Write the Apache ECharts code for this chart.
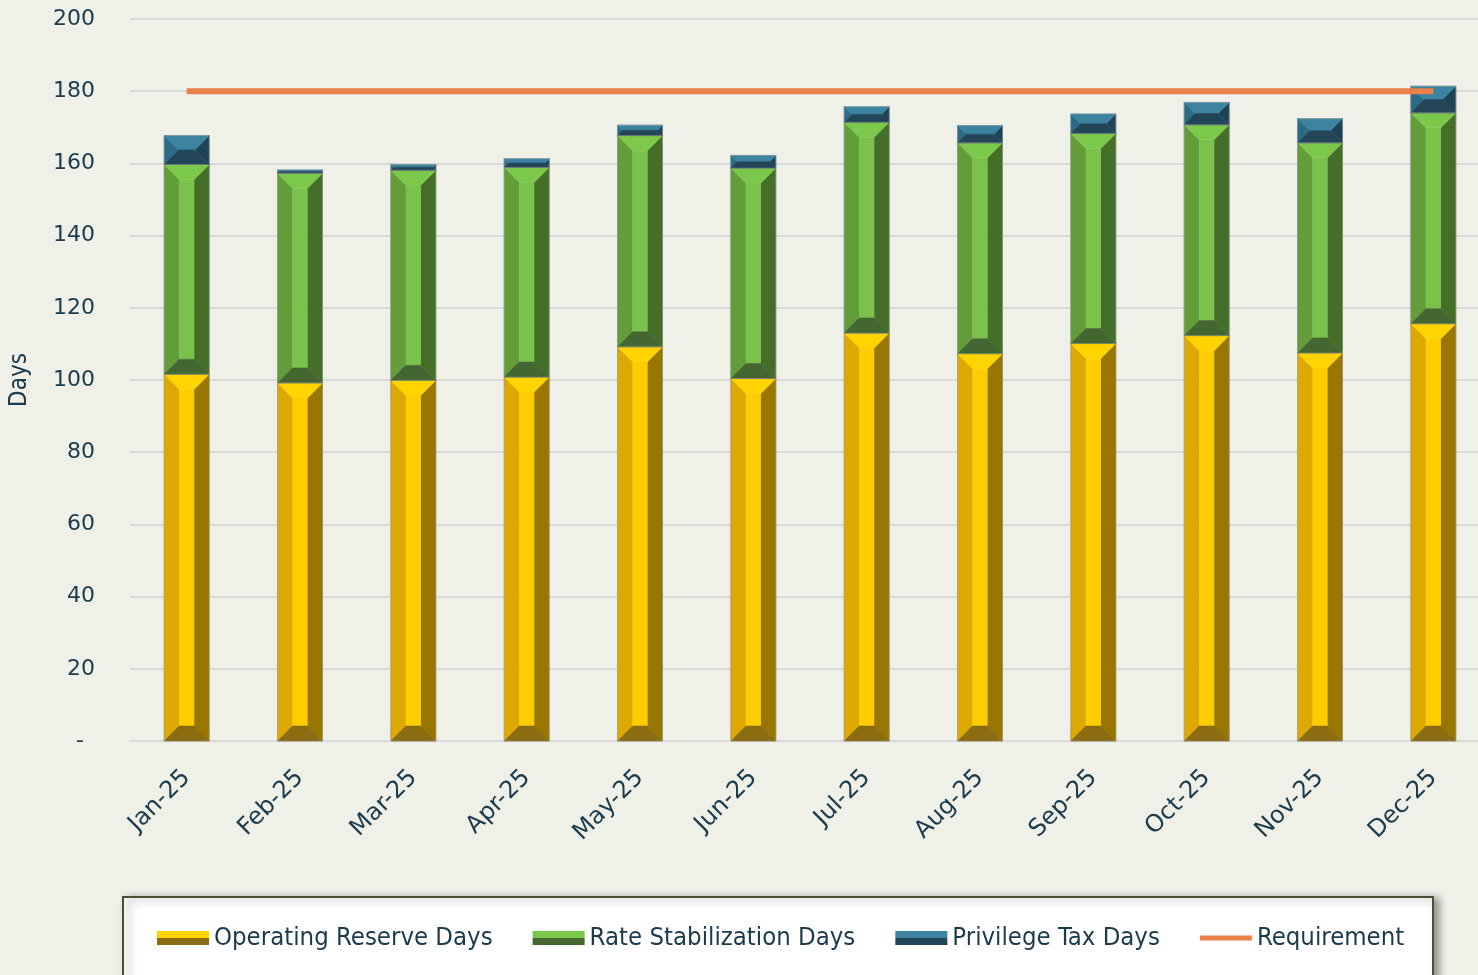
<!DOCTYPE html>
<html>
<head>
<meta charset="utf-8">
<script src="https://cdn.jsdelivr.net/npm/echarts@6/dist/echarts.min.js"></script>
<style>
  html, body { margin: 0; padding: 0; background: #EFF0E8; }
  #chart { width: 1478px; height: 975px; }
</style>
</head>
<body>
<div id="chart"></div>
<script>
// Monthly reserve days, 2025
const months = ['Jan-25', 'Feb-25', 'Mar-25', 'Apr-25', 'May-25', 'Jun-25',
                'Jul-25', 'Aug-25', 'Sep-25', 'Oct-25', 'Nov-25', 'Dec-25'];
const operatingReserve  = [101.6, 99.2, 99.9, 100.8, 109.2, 100.4, 113.0, 107.3, 110.1, 112.3, 107.5, 115.6];
const rateStabilization = [58.1, 58.1, 58.2, 58.1, 58.5, 58.3, 58.4, 58.4, 58.2, 58.4, 58.2, 58.4];
const privilegeTax      = [8.0, 0.9, 1.6, 2.4, 2.9, 3.5, 4.3, 4.8, 5.4, 6.2, 6.7, 7.4];
const requirement       = [180, 180, 180, 180, 180, 180, 180, 180, 180, 180, 180, 180];
const yMin = 0, yMax = 200, yStep = 20;

const TEXT = '#1B3A4B';
const GRID = '#D9D9D9';
const TICK_FONT = 'DejaVu Sans';
const NARROW_FONT = 'DejaVu Sans Condensed, DejaVu Sans';

// Face colours for the bevelled bar segments
const palettes = {
  operating: { top: '#FFD400', left: '#DDA800', center: '#FFCC00', right: '#997600', bottom: '#8C6C10' },
  rate:      { top: '#7CC84B', left: '#629D3A', center: '#7AC24B', right: '#456F28', bottom: '#446630' },
  privilege: { top: '#3B83A1', left: '#2C6B88', center: '#2F7594', right: '#1E4355', bottom: '#224558' }
};

// Build [category, base, top] rows for each stacked segment
const stacks = [operatingReserve, rateStabilization, privilegeTax];
const segmentRows = stacks.map((vals, s) => vals.map((v, i) => {
  let base = 0;
  for (let k = 0; k < s; k++) base += stacks[k][i];
  return [i, base, base + v];
}));

function bevelRenderer(pal) {
  return function (params, api) {
    const i = api.value(0), lo = api.value(1), hi = api.value(2);
    const pB = api.coord([i, lo]);
    const pT = api.coord([i, hi]);
    const band = api.size([1, 0])[0];
    const w = band * 0.397;
    const x0 = pB[0] - w / 2, x1 = pB[0] + w / 2;
    const yT = pT[1], yB = pB[1];
    const h = yB - yT;
    const b = Math.max(0, Math.min(15, h / 2, w / 2));
    const poly = (pts, fill) => ({
      type: 'polygon', shape: { points: pts },
      style: { fill: fill, stroke: fill, lineWidth: 0.6 }
    });
    return {
      type: 'group',
      children: [
        poly([[x0, yT], [x0 + b, yT + b], [x0 + b, yB - b], [x0, yB]], pal.left),
        poly([[x1, yT], [x1 - b, yT + b], [x1 - b, yB - b], [x1, yB]], pal.right),
        { type: 'rect', shape: { x: x0 + b, y: yT + b, width: w - 2 * b, height: Math.max(0, h - 2 * b) },
          style: { fill: pal.center } },
        poly([[x0, yT], [x1, yT], [x1 - b, yT + b], [x0 + b, yT + b]], pal.top),
        poly([[x0, yB], [x1, yB], [x1 - b, yB - b], [x0 + b, yB - b]], pal.bottom),
        { type: 'rect', shape: { x: x0, y: yT, width: w, height: h },
          style: { fill: null, stroke: 'rgba(150,150,150,0.55)', lineWidth: 1 } }
      ]
    };
  };
}

function legendSwatch(pal) {
  return new echarts.graphic.LinearGradient(0, 0, 0, 1, [
    { offset: 0, color: pal.top }, { offset: 0.5, color: pal.top },
    { offset: 0.5, color: pal.bottom }, { offset: 1, color: pal.bottom }
  ]);
}

const chart = echarts.init(document.getElementById('chart'), null, { renderer: 'canvas' });

const option = {
  backgroundColor: '#EFF0E8',
  animation: false,
  grid: { left: 130, right: -12, top: 19, bottom: 234, containLabel: false, outerBoundsMode: 'none' },
  graphic: [{
    type: 'rect', z: 0,
    shape: { x: 123, y: 897, width: 1310, height: 100 },
    style: { fill: '#FFFFFF', stroke: '#4E4E34', lineWidth: 2,
             shadowBlur: 8, shadowOffsetX: 5, shadowOffsetY: 2, shadowColor: 'rgba(0,0,0,0.4)' }
  }],
  legend: {
    left: 157, top: 925, padding: 0,
    itemWidth: 52, itemHeight: 14, itemGap: 40,
    textStyle: { fontFamily: NARROW_FONT, fontSize: 25.5, color: TEXT },
    data: [
      { name: 'Operating Reserve Days', icon: 'rect', itemStyle: { color: legendSwatch(palettes.operating) } },
      { name: 'Rate Stabilization Days', icon: 'rect', itemStyle: { color: legendSwatch(palettes.rate) } },
      { name: 'Privilege Tax Days', icon: 'rect', itemStyle: { color: legendSwatch(palettes.privilege) } },
      { name: 'Requirement', icon: 'path://M0,0H52V5H0Z', itemStyle: { color: '#E8804A' } }
    ]
  },
  xAxis: {
    type: 'category',
    data: months,
    boundaryGap: true,
    axisTick: { show: false },
    axisLine: { lineStyle: { color: GRID, width: 2 } },
    axisLabel: { rotate: 45, margin: 33, fontFamily: TICK_FONT, fontSize: 24, color: TEXT }
  },
  yAxis: {
    type: 'value',
    min: yMin, max: yMax, interval: yStep,
    name: 'Days', nameLocation: 'middle', nameGap: 98,
    nameTextStyle: { fontFamily: NARROW_FONT, fontSize: 24, color: TEXT },
    axisLine: { show: false },
    axisTick: { show: false },
    splitLine: { lineStyle: { color: GRID, width: 2 } },
    axisLabel: {
      margin: 35, fontFamily: TICK_FONT, fontSize: 22, color: TEXT,
      formatter: v => (v === 0 ? '-\u2002' : String(v))
    }
  },
  series: [
    { name: 'Operating Reserve Days', type: 'custom', renderItem: bevelRenderer(palettes.operating),
      encode: { x: 0, y: [1, 2] }, data: segmentRows[0], z: 2 },
    { name: 'Rate Stabilization Days', type: 'custom', renderItem: bevelRenderer(palettes.rate),
      encode: { x: 0, y: [1, 2] }, data: segmentRows[1], z: 2 },
    { name: 'Privilege Tax Days', type: 'custom', renderItem: bevelRenderer(palettes.privilege),
      encode: { x: 0, y: [1, 2] }, data: segmentRows[2], z: 2 },
    { name: 'Requirement', type: 'line', data: requirement, symbol: 'none', z: 5,
      lineStyle: { color: '#E8804A', width: 6 }, itemStyle: { color: '#E8804A' } }
  ]
};

chart.setOption(option);
</script>
</body>
</html>
